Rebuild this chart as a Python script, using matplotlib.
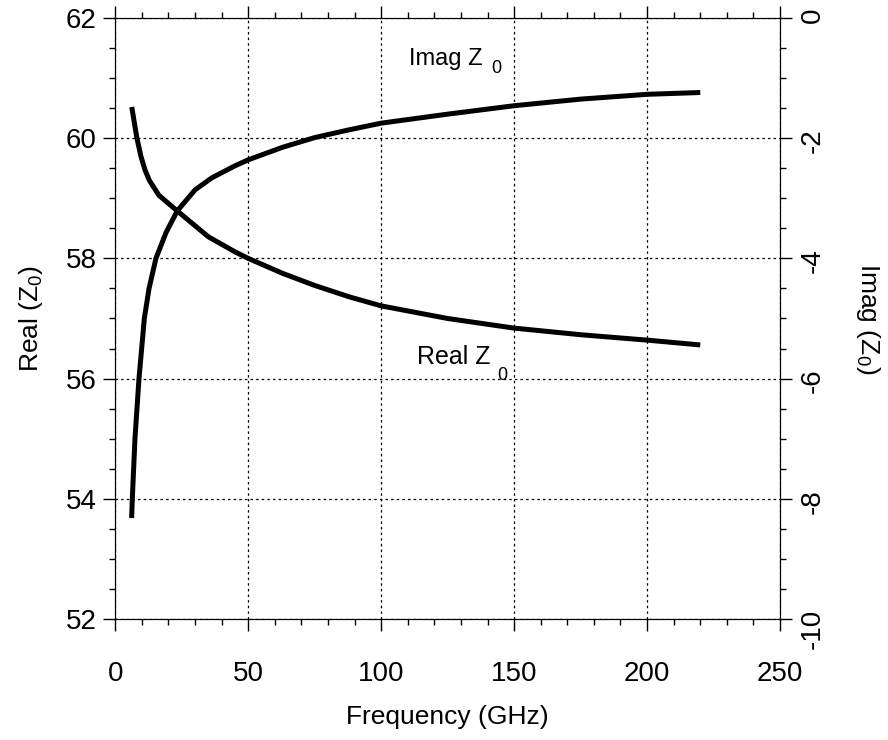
import numpy as np
import matplotlib
matplotlib.use("Agg")
import matplotlib.pyplot as plt
from matplotlib.ticker import MultipleLocator

plt.rcParams['font.family'] = ['Liberation Sans', 'DejaVu Sans']
plt.rcParams['mathtext.fontset'] = 'custom'
plt.rcParams['mathtext.rm'] = 'Liberation Sans'
plt.rcParams['mathtext.default'] = 'regular'
plt.rcParams['axes.unicode_minus'] = False

# characteristic impedance vs frequency
freq_real = [6.2, 8.1, 9.7, 11.2, 12.8, 16.4, 23.3, 35.0, 45, 50, 63, 75, 88, 100,
             125, 150, 175, 200, 220]
real_z0 = [60.52, 60.01, 59.69, 59.47, 59.30, 59.05, 58.79, 58.36, 58.11, 58.00, 57.75,
           57.55, 57.36, 57.21, 57.00, 56.84, 56.73, 56.64, 56.56]

freq_imag = [6.16, 6.41, 7.41, 8.92, 10.93, 12.7, 15.3, 19.1, 23.3, 30.0, 36.3, 45, 50,
             63, 75, 88, 100, 125, 150, 175, 200, 220]
imag_z0 = [-8.32, -8.0, -7.0, -6.0, -5.0, -4.5, -4.0, -3.57, -3.21, -2.86, -2.66, -2.46,
           -2.36, -2.15, -1.99, -1.86, -1.75, -1.60, -1.46, -1.35, -1.27, -1.24]

fig = plt.figure(figsize=(8.88, 7.40), dpi=100)
ax = fig.add_axes([0.1298, 0.1635, 0.7486, 0.8122])
ax2 = ax.twinx()

ax.plot(freq_real, real_z0, color='black', lw=3.6, solid_capstyle='butt', solid_joinstyle='round')
ax2.plot(freq_imag, imag_z0, color='black', lw=3.6, solid_capstyle='butt', solid_joinstyle='round')

ax.set_xlim(0, 250)
ax.set_ylim(52, 62)
ax2.set_ylim(-10, 0)

ax.xaxis.set_major_locator(MultipleLocator(50))
ax.xaxis.set_minor_locator(MultipleLocator(10))
ax.yaxis.set_major_locator(MultipleLocator(2))
ax.yaxis.set_minor_locator(MultipleLocator(0.5))
ax2.yaxis.set_major_locator(MultipleLocator(2))
ax2.yaxis.set_minor_locator(MultipleLocator(0.5))

ax.grid(True, which='major', color='black', linestyle=(0, (2, 2.5)), lw=0.9)
ax.set_axisbelow(True)

ax.xaxis.set_ticks_position('both')
for a in (ax, ax2):
    a.tick_params(which='major', direction='out', length=8.5, width=1.0, labelsize=20)
    a.tick_params(which='minor', direction='out', length=4.5, width=1.0)
    for s in a.spines.values():
        s.set_linewidth(0.8)
ax.tick_params(axis='x', which='both', labeltop=False)
ax.tick_params(axis='x', which='major', pad=22)
ax.tick_params(axis='y', which='major', pad=5)
ax.tick_params(axis='y', which='both', right=False)
ax2.tick_params(axis='y', which='major', labelrotation=90, pad=6)

ax.set_xlabel('Frequency (GHz)', fontsize=19, labelpad=13)
ax.set_ylabel('Real (Z$_0$)', fontsize=19, labelpad=15)
ax2.set_ylabel('Imag (Z$_0$)', fontsize=19, rotation=-90, va='bottom', labelpad=20)

# curve labels, subscript set a little apart as in the original plot
ax.text(110.5, 61.22, 'Imag Z', fontsize=17)
ax.text(141.3, 61.08, '0', fontsize=13)
ax.text(113.4, 56.25, 'Real Z', fontsize=18)
ax.text(143.7, 55.98, '0', fontsize=13)

fig.savefig('out.png', dpi=100)
